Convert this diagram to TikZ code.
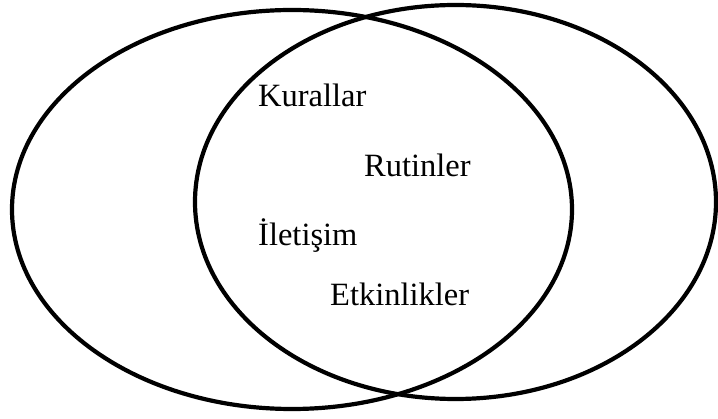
\documentclass[tikz,border=0pt]{standalone}
\usepackage{fontspec}
\setmainfont{Liberation Serif}
\begin{document}
\begin{tikzpicture}[x=1pt,y=-1pt]
	
	% Sinirlar
	\useasboundingbox (0,0) rectangle (718,419);
	
	% Sol elips
	\draw[line width=4.2pt] (292,209.5) ellipse (280 and 199.5);
	
	% Sag elips
	\draw[line width=4.2pt] (455.5,202) ellipse (260.5 and 197);
	
	% Ortak alan
	\node[anchor=base west,inner sep=0,font=\fontsize{32.5}{38}\selectfont] (kurallar) at (258,107) {Kurallar};
	\node[anchor=base west,inner sep=0,font=\fontsize{32.5}{38}\selectfont] (rutinler) at (364,177) {Rutinler};
	\node[anchor=base west,inner sep=0,font=\fontsize{32.5}{38}\selectfont] (iletisim) at (258,246) {İletişim};
	\node[anchor=base west,inner sep=0,font=\fontsize{32.5}{38}\selectfont] (etkinlikler) at (330,306) {Etkinlikler};
	
\end{tikzpicture}
\end{document}
